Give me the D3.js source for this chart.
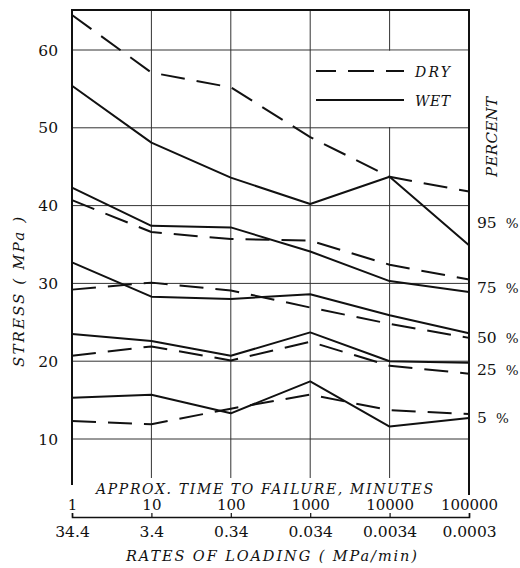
<!DOCTYPE html>
<html>
<head>
<meta charset="utf-8">
<script src="https://cdn.jsdelivr.net/npm/d3@7"></script>
<style>
  html, body { margin: 0; padding: 0; background: #fff; }
  svg { display: block; }
  text { font-family: "DejaVu Serif", "Liberation Serif", serif; fill: #111; }
</style>
</head>
<body>
<svg id="chart" width="520" height="568"></svg>
<script>
// ---- data ----
const times = [1, 10, 100, 1000, 10000, 100000];
const timeLabels = ["1", "10", "100", "1000", "10000", "100000"];
const rateLabels = ["34.4", "3.4", "0.34", "0.034", "0.0034", "0.0003"];
const stressTicks = [10, 20, 30, 40, 50, 60];
const percents = ["95", "75", "50", "25", "5"];
const percentLabelAt = [37.8, 29.5, 23.1, 19.0, 12.8];

const dry95 = [64.5, 57.1, 55.2, 48.8, 43.7, 41.8];
const wet95 = [55.4, 48.1, 43.6, 40.2, 43.7, 34.9];
const dry75 = [40.7, 36.6, 35.7, 35.5, 32.4, 30.5];
const wet75 = [42.3, 37.4, 37.2, 34.1, 30.3, 28.9];
const dry50 = [29.2, 30.1, 29.1, 26.9, 24.8, 23.0];
const wet50 = [32.7, 28.3, 28.0, 28.6, 25.9, 23.6];
const dry25 = [20.7, 21.9, 20.1, 22.5, 19.4, 18.4];
const wet25 = [23.5, 22.6, 20.7, 23.7, 20.0, 19.8];
const dry5  = [12.3, 11.9, 13.9, 15.7, 13.7, 13.2];
const wet5  = [15.3, 15.7, 13.3, 17.4, 11.6, 12.7];

const series = [
  { name: "DRY", values: dry95 }, { name: "WET", values: wet95 },
  { name: "DRY", values: dry75 }, { name: "WET", values: wet75 },
  { name: "DRY", values: dry50 }, { name: "WET", values: wet50 },
  { name: "DRY", values: dry25 }, { name: "WET", values: wet25 },
  { name: "DRY", values: dry5 },  { name: "WET", values: wet5 }
];

// ---- layout ----
const svg = d3.select("#chart");
const L = 72, R = 469, T = 10;
const x = d3.scaleLog().domain([1, 100000]).range([L, R]);
const y = d3.scaleLinear().domain([10, 60]).range([439, 50]);
const DASH = "24,12";
const ink = "#111";

// horizontal grid
svg.append("g").selectAll("line").data(stressTicks).join("line")
  .attr("x1", L).attr("x2", R)
  .attr("y1", d => y(d)).attr("y2", d => y(d))
  .attr("stroke", "#333").attr("stroke-width", 1);

// vertical interior grid
svg.append("g").selectAll("line").data(times.slice(1, -1)).join("line")
  .attr("x1", d => x(d)).attr("x2", d => x(d))
  .attr("y1", T).attr("y2", 478)
  .attr("stroke", "#333").attr("stroke-width", 1);

// legend white box (covers grid)
svg.append("rect")
  .attr("x", x(1000) + 0.8).attr("y", y(60) + 0.8)
  .attr("width", R - x(1000) - 1.8).attr("height", y(50) - y(60) - 1.6)
  .attr("fill", "#fff");

// frame
svg.append("line").attr("x1", L).attr("x2", L).attr("y1", T - 1).attr("y2", 485)
  .attr("stroke", ink).attr("stroke-width", 2);
svg.append("line").attr("x1", R).attr("x2", R).attr("y1", T - 1).attr("y2", 495)
  .attr("stroke", ink).attr("stroke-width", 2);
svg.append("line").attr("x1", L - 1).attr("x2", R + 1).attr("y1", T).attr("y2", T)
  .attr("stroke", ink).attr("stroke-width", 2);

// y labels
svg.append("g").selectAll("text").data(stressTicks).join("text")
  .attr("x", 58).attr("y", d => y(d)).attr("dy", "0.36em")
  .attr("text-anchor", "end").attr("font-size", 15.5)
  .text(d => d);

// series lines
const line = d3.line().x((d, i) => x(times[i])).y(d => y(d));
svg.append("g").selectAll("path").data(series).join("path")
  .attr("d", d => line(d.values))
  .attr("fill", "none").attr("stroke", ink).attr("stroke-width", 2)
  .attr("stroke-linejoin", "round")
  .attr("stroke-dasharray", d => d.name === "DRY" ? DASH : null);

// legend
const legend = [{ name: "DRY", y: 71 }, { name: "WET", y: 100 }];
const lg = svg.append("g");
lg.selectAll("line").data(legend).join("line")
  .attr("x1", 316).attr("x2", 404).attr("y1", d => d.y).attr("y2", d => d.y)
  .attr("stroke", ink).attr("stroke-width", 2)
  .attr("stroke-dasharray", d => d.name === "DRY" ? "20,12,26,12,20" : null);
lg.selectAll("text").data(legend).join("text")
  .attr("x", 415).attr("y", d => d.y + 5.5)
  .attr("font-size", 14).attr("font-style", "italic")
  .attr("textLength", 35).attr("lengthAdjust", "spacing")
  .text(d => d.name);

// percent labels (right)
const pl = svg.append("g").selectAll("text").data(percents).join("text")
  .attr("x", 477).attr("y", (d, i) => y(percentLabelAt[i])).attr("dy", "0.36em")
  .attr("font-size", 15.5)
  .text(d => d);
pl.append("tspan").attr("dx", 9).attr("font-size", 13.5).text("%");

svg.append("text")
  .attr("transform", "translate(497,137) rotate(-90)")
  .attr("text-anchor", "middle")
  .attr("font-size", 15).attr("font-style", "italic")
  .attr("textLength", 80).attr("lengthAdjust", "spacing")
  .text("PERCENT");

svg.append("text")
  .attr("transform", "translate(24,292) rotate(-90)")
  .attr("text-anchor", "middle")
  .attr("font-size", 15).attr("font-style", "italic")
  .attr("textLength", 150).attr("lengthAdjust", "spacing")
  .text("STRESS ( MPa )");

// bottom axis: time to failure (above line) and rates (below)
const axTop = svg.append("g").attr("transform", "translate(0,517)")
  .call(d3.axisTop(x).tickValues(times).tickFormat((d, i) => timeLabels[i])
    .tickSize(4).tickSizeOuter(4).tickPadding(3));
axTop.select(".domain").attr("stroke", ink).attr("stroke-width", 1.6);
axTop.selectAll(".tick line").attr("stroke", ink).attr("stroke-width", 1.2);
axTop.selectAll("text").attr("font-family", "DejaVu Serif").attr("font-size", 15).attr("fill", ink);

const axBot = svg.append("g").attr("transform", "translate(0,517)")
  .call(d3.axisBottom(x).tickValues(times).tickFormat((d, i) => rateLabels[i])
    .tickSize(0).tickPadding(9));
axBot.select(".domain").remove();
axBot.selectAll("text").attr("font-family", "DejaVu Serif").attr("font-size", 15.5).attr("fill", ink);

svg.append("text")
  .attr("x", 96).attr("y", 493.5)
  .attr("font-size", 14).attr("font-style", "italic")
  .attr("textLength", 337).attr("lengthAdjust", "spacing")
  .text("APPROX.  TIME  TO  FAILURE,  MINUTES");

svg.append("text")
  .attr("x", 126).attr("y", 561)
  .attr("font-size", 14.5).attr("font-style", "italic")
  .attr("textLength", 291).attr("lengthAdjust", "spacing")
  .text("RATES  OF  LOADING  (  MPa/min)");
</script>
</body>
</html>
